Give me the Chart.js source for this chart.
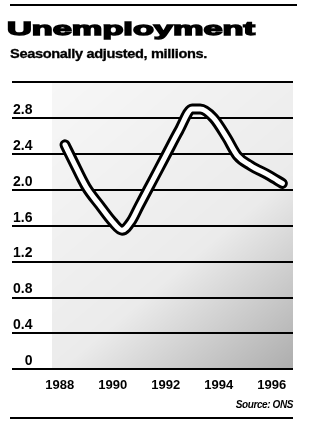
<!DOCTYPE html>
<html>
<head>
<meta charset="utf-8">
<script src="https://cdn.jsdelivr.net/npm/chart.js@4/dist/chart.umd.min.js"></script>
<style>
  body { margin: 0; background: #fff; }
  #wrap { position: relative; width: 310px; height: 423px; overflow: hidden; }
  #chart { position: absolute; left: 0; top: 0; }
  .txt { position: absolute; white-space: nowrap; color: #000; font-family: "Liberation Sans", Arial, sans-serif; font-weight: bold; }
  #title { left: 7px; top: 20px; font-size: 22px; line-height: 22px; -webkit-text-stroke: 1.6px #000; transform-origin: left top; }
  #subtitle { left: 10px; top: 48px; font-size: 12.5px; line-height: 13px; -webkit-text-stroke: 0.3px #000; transform-origin: left top; letter-spacing: -0.3px; }
  #source { right: 17px; top: 400px; font-size: 10px; line-height: 10px; font-style: italic; letter-spacing: -0.4px; }
  .rule { position: absolute; background: #000; }
</style>
</head>
<body>
<div id="wrap">
  <canvas id="chart" width="310" height="423"></canvas>
  <div class="rule" style="left:10px; top:4px; width:287px; height:2px;"></div>
  <div class="txt" id="title">Unemployment</div>
  <div class="txt" id="subtitle">Seasonally adjusted, millions.</div>
  <div class="txt" id="source">Source: ONS</div>
  <div class="rule" style="left:10px; top:417px; width:283px; height:2px;"></div>
</div>
<script>
// Data (millions, seasonally adjusted)
const years = [1988.2, 1988.5, 1989.0, 1989.5, 1990.0, 1990.35, 1990.7, 1991.0, 1991.5, 1992.0,
               1992.5, 1993.0, 1993.3, 1993.8, 1994.3, 1994.7, 1995.2, 1995.9, 1996.4];
const unemployed = [2.50, 2.32, 2.03, 1.83, 1.64, 1.55, 1.65, 1.82, 2.10, 2.38,
                    2.66, 2.90, 2.90, 2.80, 2.58, 2.38, 2.27, 2.16, 2.07];

// Tick labels
const xTickYears = [1988, 1990, 1992, 1994, 1996];
const yTickValues = [0, 0.4, 0.8, 1.2, 1.6, 2.0, 2.4, 2.8, 3.2];
const yTickLabels = ["0", "0.4", "0.8", "1.2", "1.6", "2.0", "2.4", "2.8", ""];

// Stretch header text to the widths in the picture
function fitWidth(id, width, scaleY) {
    const el = document.getElementById(id);
    const w = el.getBoundingClientRect().width;
    el.style.transform = `scale(${width / w}, ${scaleY})`;
}
fitWidth("title", 248, 0.85);
fitWidth("subtitle", 197, 1);

const points = years.map((yr, i) => ({ x: yr, y: unemployed[i] }));

// Grey tint behind the plot, darker toward bottom right
const shadePlugin = {
    id: "shade",
    beforeDraw(chart) {
        const { ctx, chartArea } = chart;
        const left = chartArea.left + 40;
        const g = ctx.createLinearGradient(left, chartArea.top, chartArea.right, chartArea.bottom);
        g.addColorStop(0, "rgba(0,0,0,0.03)");
        g.addColorStop(0.6, "rgba(0,0,0,0.08)");
        g.addColorStop(1, "rgba(0,0,0,0.32)");
        ctx.save();
        ctx.fillStyle = g;
        ctx.fillRect(left, chartArea.top, chartArea.right - left, chartArea.bottom - chartArea.top);
        ctx.restore();
    }
};

const labelFont = { family: "'Liberation Sans', Arial, sans-serif", weight: "bold" };

new Chart(document.getElementById("chart"), {
    type: "line",
    data: {
        datasets: [
            {
                data: points,
                borderColor: "#fff",
                borderWidth: 5,
                borderCapStyle: "round",
                borderJoinStyle: "round",
                cubicInterpolationMode: "monotone",
                pointRadius: 0,
                fill: false
            },
            {
                data: points,
                borderColor: "#000",
                borderWidth: 11,
                borderCapStyle: "round",
                borderJoinStyle: "round",
                cubicInterpolationMode: "monotone",
                pointRadius: 0,
                fill: false
            }
        ]
    },
    options: {
        responsive: false,
        animation: false,
        devicePixelRatio: 1,
        layout: { padding: { top: 82, left: 10, right: 17, bottom: 22 } },
        plugins: { legend: { display: false }, tooltip: { enabled: false } },
        scales: {
            x: {
                type: "linear",
                min: 1986.2,
                max: 1996.8,
                afterBuildTicks: axis => { axis.ticks = xTickYears.map(v => ({ value: v })); },
                grid: { display: false, drawTicks: false },
                border: { display: false },
                ticks: {
                    padding: 8,
                    color: "#000",
                    font: { ...labelFont, size: 13 },
                    callback: v => String(v),
                    maxRotation: 0
                }
            },
            y: {
                min: 0,
                max: 3.2,
                afterBuildTicks: axis => { axis.ticks = yTickValues.map(v => ({ value: v })); },
                grid: { color: "#000", lineWidth: 2, drawTicks: false },
                border: { display: false },
                ticks: {
                    mirror: true,
                    crossAlign: "far",
                    padding: 1,
                    labelOffset: -8,
                    color: "#000",
                    font: { ...labelFont, size: 14 },
                    callback: (v, i) => yTickLabels[i]
                }
            }
        }
    },
    plugins: [shadePlugin]
});
</script>
</body>
</html>
